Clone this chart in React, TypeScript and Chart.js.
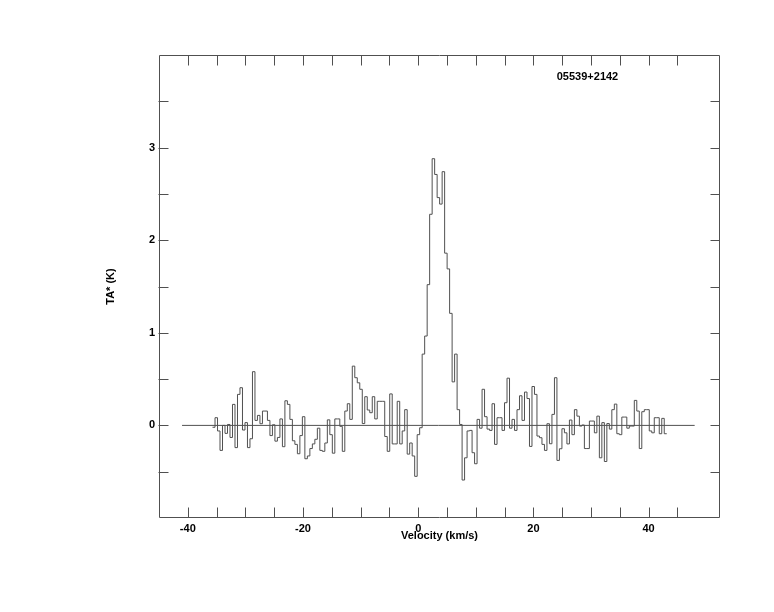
import React, { useEffect, useRef } from 'react';
import { Chart, registerables } from 'chart.js';

Chart.register(...registerables);

// ---- data ----
const SOURCE_NAME = '05539+2142';
const X_TITLE = 'Velocity (km/s)';
const Y_TITLE = 'TA* (K)';

// channel grid of the spectrum (centre of first channel and channel width, km/s)
const V_FIRST = -35.49;
const DV = 0.4333;

// antenna temperature per channel (K)
const TA = [
  -0.02, 0.083, -0.06, -0.27, 0.0, -0.086, 0.01, -0.13, 0.227, -0.24,
  0.335, 0.407, -0.05, 0.03, -0.24, -0.144, 0.58, 0.054, 0.108, 0.018,
  0.155, 0.155, 0.054, -0.11, 0.007, -0.17, -0.13, 0.07, -0.23, 0.266,
  0.227, 0.065, -0.166, -0.205, -0.306, -0.11, 0.094, -0.36, -0.33, -0.25,
  -0.2, -0.15, -0.03, -0.27, -0.28, -0.19, 0.06, -0.1, -0.3, 0.07,
  0.07, -0.01, -0.28, 0.155, 0.234, 0.065, 0.64, 0.515, 0.46, 0.39,
  0.02, 0.31, 0.166, 0.137, 0.31, 0.07, 0.26, 0.26, 0.26, -0.12,
  -0.28, 0.34, -0.2, -0.2, 0.26, -0.2, -0.06, 0.17, -0.31, -0.19,
  -0.33, -0.55, -0.1, -0.025, 0.77, 0.965, 1.52, 2.28, 2.88, 2.71,
  2.46, 2.39, 2.74, 1.86, 1.69, 1.21, 0.47, 0.77, 0.17, 0.01,
  -0.59, -0.35, -0.06, -0.054, -0.295, -0.414, 0.065, -0.03, 0.39, 0.094,
  -0.04, -0.054, 0.234, -0.205, 0.083, 0.083, -0.054, 0.245, 0.51, -0.03,
  0.065, -0.054, 0.17, 0.32, 0.054, 0.36, 0.29, -0.227, 0.42, 0.335,
  -0.115, -0.133, -0.205, -0.27, 0.018, -0.198, 0.119, 0.515, -0.378, -0.252,
  -0.036, -0.08, -0.2, 0.058, -0.1, 0.17, 0.1, -0.007, 0.004, -0.25,
  -0.25, 0.047, 0.047, -0.08, 0.1, -0.35, 0.03, -0.39, 0.02, -0.04,
  0.17, 0.23, -0.09, -0.1, 0.09, 0.09, -0.03, -0.007, -0.007, 0.27,
  0.155, -0.25, 0.148, 0.17, 0.17, -0.06, -0.08, 0.083, 0.083, -0.09,
  0.076, -0.09,
];

// zero baseline extent (km/s)
const BASELINE_X = [-41, 48];

// axis ranges and ticks
const X_RANGE = [-45, 52.4];
const Y_RANGE = [-1, 4];
const X_LABELS = [-40, -20, 0, 20, 40];
const Y_LABELS = [0, 1, 2, 3];
const X_TICK_MARKS = [-40, -35, -30, -25, -20, -15, -10, -5, 0, 5, 10, 15, 20, 25, 30, 35, 40, 45];
const Y_TICK_MARKS = [-0.5, 0, 0.5, 1, 1.5, 2, 2.5, 3, 3.5];

const LINE = '#505050';
const FONT = 'Liberation Sans';

const framePlugin = {
  id: 'frameTicks',
  afterDraw(chart: any) {
    const { ctx, chartArea: a, scales } = chart;
    const xs = scales.x;
    const ys = scales.y;
    const L = Math.round(a.left) + 0.5;
    const R = Math.round(a.right) - 0.5;
    const T = Math.round(a.top) + 0.5;
    const B = Math.round(a.bottom) - 0.5;
    ctx.save();
    ctx.strokeStyle = LINE;
    ctx.lineWidth = 1;
    ctx.beginPath();
    ctx.rect(L, T, R - L, B - T);
    for (const v of X_TICK_MARKS) {
      const px = Math.round(xs.getPixelForValue(v)) + 0.5;
      ctx.moveTo(px, T);
      ctx.lineTo(px, T + 10);
      ctx.moveTo(px, B);
      ctx.lineTo(px, B - 10);
    }
    for (const v of Y_TICK_MARKS) {
      const py = Math.round(ys.getPixelForValue(v)) + 0.5;
      ctx.moveTo(L - 1, py);
      ctx.lineTo(L + 9, py);
      ctx.moveTo(R, py);
      ctx.lineTo(R - 9, py);
    }
    ctx.stroke();
    ctx.fillStyle = '#000';
    ctx.font = `bold 11px "${FONT}"`;
    ctx.textBaseline = 'alphabetic';
    ctx.textAlign = 'left';
    ctx.fillText(SOURCE_NAME, a.left + (a.right - a.left) * 0.709, a.top + 25);
    ctx.restore();
  },
};

export default function App() {
  const ref = useRef<HTMLCanvasElement | null>(null);

  useEffect(() => {
    const canvas = ref.current;
    if (!canvas) return;
    const centers = TA.map((_, i) => V_FIRST + i * DV);
    const stepData = centers.map((c, i) => ({ x: c - DV / 2, y: TA[i] }));
    stepData.push({ x: centers[centers.length - 1] + DV / 2, y: TA[TA.length - 1] });

    const chart = new Chart(canvas, {
      type: 'line',
      data: {
        datasets: [
          {
            data: BASELINE_X.map((x) => ({ x, y: 0 })),
            borderColor: LINE,
            borderWidth: 1,
            pointRadius: 0,
            fill: false,
          },
          {
            data: stepData,
            borderColor: LINE,
            borderWidth: 1,
            pointRadius: 0,
            stepped: 'before',
            fill: false,
          },
        ],
      },
      options: {
        animation: false,
        responsive: false,
        devicePixelRatio: 1,
        layout: { padding: { left: 0, top: 55, right: 54, bottom: 0 } },
        plugins: { legend: { display: false }, tooltip: { enabled: false } },
        scales: {
          x: {
            type: 'linear',
            min: X_RANGE[0],
            max: X_RANGE[1],
            grid: { display: false, drawTicks: false },
            border: { display: false },
            afterFit: (s: any) => { s.height = 94; },
            ticks: {
              stepSize: 20,
              includeBounds: false,
              autoSkip: false,
              maxRotation: 0,
              padding: 4,
              color: '#000',
              font: { family: FONT, size: 11, weight: 'bold' },
              callback: (v: any) => (X_LABELS.includes(Number(v)) ? String(v) : ''),
            },
            title: {
              display: true,
              text: X_TITLE,
              color: '#000',
              font: { family: FONT, size: 11, weight: 'bold' },
              padding: { top: 0, bottom: 69 },
            },
          },
          y: {
            type: 'linear',
            min: Y_RANGE[0],
            max: Y_RANGE[1],
            grid: { display: false, drawTicks: false },
            border: { display: false },
            afterFit: (s: any) => { s.width = 159; },
            ticks: {
              stepSize: 1,
              includeBounds: false,
              autoSkip: false,
              padding: 4,
              color: '#000',
              font: { family: FONT, size: 11, weight: 'bold' },
              callback: (v: any) => (Y_LABELS.includes(Number(v)) ? String(v) : ''),
            },
            title: {
              display: true,
              text: Y_TITLE,
              color: '#000',
              font: { family: FONT, size: 11, weight: 'bold' },
              padding: { top: 104, bottom: 0 },
            },
          },
        },
      },
      plugins: [framePlugin],
    });
    return () => chart.destroy();
  }, []);

  return (
    <div style={{ position: 'absolute', left: 0, top: 0, width: 774, height: 612, background: '#fff' }}>
      <canvas ref={ref} width={774} height={612} style={{ display: 'block' }} />
    </div>
  );
}
